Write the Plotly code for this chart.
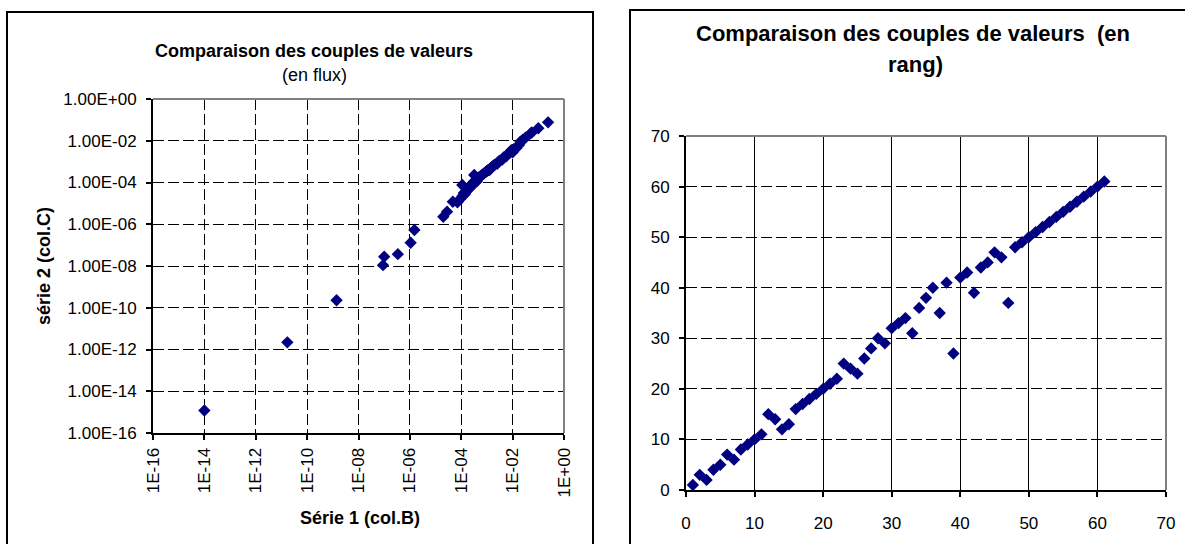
import plotly.graph_objects as go

W, H = 1185, 544
FONT = "Arial, Liberation Sans, sans-serif"
NAVY = "#000080"

# ---------------- data: flux (left chart) ----------------
serie1_flux = [
    1.0e-14, 1.7e-11, 1.4e-9, 9.0e-8, 1.0e-7, 3.4e-7, 1.07e-6, 1.5e-6,
    2.0e-5, 2.8e-5, 4.7e-5, 1.1e-4, 3.2e-4,
    7.1e-5, 8.9e-5, 1.12e-4, 1.26e-4, 1.41e-4, 1.58e-4, 1.78e-4, 2.0e-4, 2.24e-4, 2.51e-4,
    2.82e-4, 3.16e-4, 3.55e-4, 3.98e-4, 4.47e-4, 5.01e-4, 5.62e-4, 6.31e-4, 7.08e-4, 7.94e-4,
    8.91e-4, 1.0e-3, 1.12e-3, 1.26e-3, 1.41e-3, 1.58e-3, 1.78e-3, 2.0e-3, 2.51e-3, 2.82e-3,
    3.16e-3, 3.98e-3, 4.47e-3, 5.62e-3, 6.31e-3, 7.94e-3, 8.91e-3, 1.0e-2, 1.12e-2, 1.41e-2,
    1.78e-2, 2.0e-2, 2.51e-2, 3.16e-2,
    5.0e-2, 5.6e-2, 1.0e-1, 2.4e-1,
]
serie2_flux = [
    1.2e-15, 2.2e-12, 2.3e-10, 1.1e-8, 2.8e-8, 3.7e-8, 1.3e-7, 5.3e-7,
    2.3e-6, 4.0e-6, 1.2e-5, 7.6e-5, 2.3e-4,
    1.12e-5, 1.58e-5, 2.24e-5, 3.16e-5, 2.82e-5, 3.98e-5, 4.47e-5, 6.31e-5, 5.62e-5, 7.94e-5,
    8.91e-5, 1.12e-4, 1.26e-4, 1.12e-4, 1.58e-4, 1.78e-4, 2.0e-4, 2.24e-4, 2.51e-4, 2.82e-4,
    3.16e-4, 3.55e-4, 3.98e-4, 3.98e-4, 5.01e-4, 5.62e-4, 6.31e-4, 7.08e-4, 7.94e-4, 1.0e-3,
    1.12e-3, 1.26e-3, 1.58e-3, 1.78e-3, 2.24e-3, 2.82e-3, 3.55e-3, 2.82e-3, 3.98e-3, 4.47e-3,
    6.31e-3, 8.91e-3, 1.12e-2, 1.41e-2,
    2.24e-2, 2.51e-2, 3.98e-2, 7.6e-2,
]

log_tickvals = [1e-16, 1e-14, 1e-12, 1e-10, 1e-8, 1e-6, 1e-4, 1e-2, 1e0]
x_ticktext = ["1E-16", "1E-14", "1E-12", "1E-10", "1E-08", "1E-06", "1E-04", "1E-02", "1E+00"]
y_ticktext = ["1.00E-16", "1.00E-14", "1.00E-12", "1.00E-10", "1.00E-08",
              "1.00E-06", "1.00E-04", "1.00E-02", "1.00E+00"]

# ---------------- data: ranks (right chart) ----------------
rang_serie1 = [1, 2, 3, 4, 5, 6, 7, 8, 9, 10, 11, 12, 13, 14, 15, 16, 17, 18, 19, 20,
               21, 22, 23, 24, 25, 26, 27, 28, 29, 30, 31, 32, 33, 34, 35, 36, 37, 38, 39, 40,
               41, 42, 43, 44, 45, 46, 47, 48, 49, 50, 51, 52, 53, 54, 55, 56, 57, 58, 59, 60, 61]
rang_serie2 = [1, 3, 2, 4, 5, 7, 6, 8, 9, 10, 11, 15, 14, 12, 13, 16, 17, 18, 19, 20,
               21, 22, 25, 24, 23, 26, 28, 30, 29, 32, 33, 34, 31, 36, 38, 40, 35, 41, 27, 42,
               43, 39, 44, 45, 47, 46, 37, 48, 49, 50, 51, 52, 53, 54, 55, 56, 57, 58, 59, 60, 61]
rang_ticks = [0, 10, 20, 30, 40, 50, 60, 70]


def px_x(x):
    return x / W


def px_y(y):
    return 1 - y / H


fig = go.Figure()

fig.add_trace(go.Scatter(
    x=serie1_flux, y=serie2_flux, mode="markers", xaxis="x", yaxis="y",
    marker=dict(symbol="diamond", size=9.5, color=NAVY, line=dict(width=0)),
))
fig.add_trace(go.Scatter(
    x=rang_serie1, y=rang_serie2, mode="markers", xaxis="x2", yaxis="y2",
    marker=dict(symbol="diamond", size=9.5, color=NAVY, line=dict(width=0)),
))

dash = "11px,4px"
common = dict(
    showline=True, linecolor="black", linewidth=2, mirror=False,
    ticks="outside", ticklen=5, tickwidth=1.5, tickcolor="black",
    zeroline=False, showgrid=True, gridcolor="black", gridwidth=1,
    automargin=False,
    tickfont=dict(family=FONT, size=17, color="black"),
)

fig.update_layout(
    width=W, height=H,
    autosize=False,
    margin=dict(l=0, r=0, t=0, b=0, pad=0, autoexpand=False),
    paper_bgcolor="white", plot_bgcolor="white",
    showlegend=False,
    xaxis=dict(
        common, type="log", range=[-16, 0], domain=[px_x(153), px_x(564)],
        tickvals=log_tickvals, ticktext=x_ticktext, tickangle=-90,
        griddash=dash, anchor="y", ticklabelstandoff=1,
    ),
    yaxis=dict(
        common, type="log", range=[-16, 0], domain=[px_y(433), px_y(99)],
        tickvals=log_tickvals, ticktext=y_ticktext,
        griddash=dash, anchor="x", ticklabelstandoff=6,
    ),
    xaxis2=dict(
        common, range=[0, 70], domain=[px_x(686), px_x(1166)],
        tickvals=rang_ticks, griddash="solid", anchor="y2", ticklabelstandoff=12,
    ),
    yaxis2=dict(
        common, range=[0, 70], domain=[px_y(490), px_y(136)],
        tickvals=rang_ticks, griddash=dash, anchor="x2", ticklabelstandoff=6,
    ),
)

# gray top/right plot-area borders (Excel style)
for xr, yr in (("x domain", "y domain"), ("x2 domain", "y2 domain")):
    fig.add_shape(type="line", xref=xr, yref=yr, x0=0, x1=1, y0=1, y1=1,
                  line=dict(color="#808080", width=2), layer="above")
    fig.add_shape(type="line", xref=xr, yref=yr, x0=1, x1=1, y0=0, y1=1,
                  line=dict(color="#808080", width=2), layer="above")

# chart-area frames
fig.add_shape(type="rect", xref="paper", yref="paper",
              x0=px_x(7), x1=px_x(593), y0=px_y(560), y1=px_y(12),
              line=dict(color="black", width=2))
fig.add_shape(type="rect", xref="paper", yref="paper",
              x0=px_x(630), x1=px_x(1200), y0=px_y(560), y1=px_y(10),
              line=dict(color="black", width=2))

# titles
annots = [
    dict(text="<b>Comparaison des couples de valeurs</b>", x=314, y=51, size=18),
    dict(text="(en flux)", x=315, y=75, size=18),
    dict(text="<b>Série 1 (col.B)</b>", x=360, y=518, size=18),
    dict(text="<b>Comparaison des couples de valeurs  (en</b>", x=913, y=33, size=22),
    dict(text="<b>rang)</b>", x=915, y=64, size=22),
]
for a in annots:
    fig.add_annotation(text=a["text"], x=px_x(a["x"]), y=px_y(a["y"]),
                       xref="paper", yref="paper", showarrow=False,
                       xanchor="center", yanchor="middle",
                       font=dict(family=FONT, size=a["size"], color="black"))
fig.add_annotation(text="<b>série 2 (col.C)</b>", x=px_x(44), y=px_y(266),
                   xref="paper", yref="paper", showarrow=False, textangle=-90,
                   xanchor="center", yanchor="middle",
                   font=dict(family=FONT, size=18, color="black"))

fig.write_html(
    "out.html",
    config={"displayModeBar": False},
    post_script="document.body.style.margin='0';document.body.style.overflow='hidden';",
)
